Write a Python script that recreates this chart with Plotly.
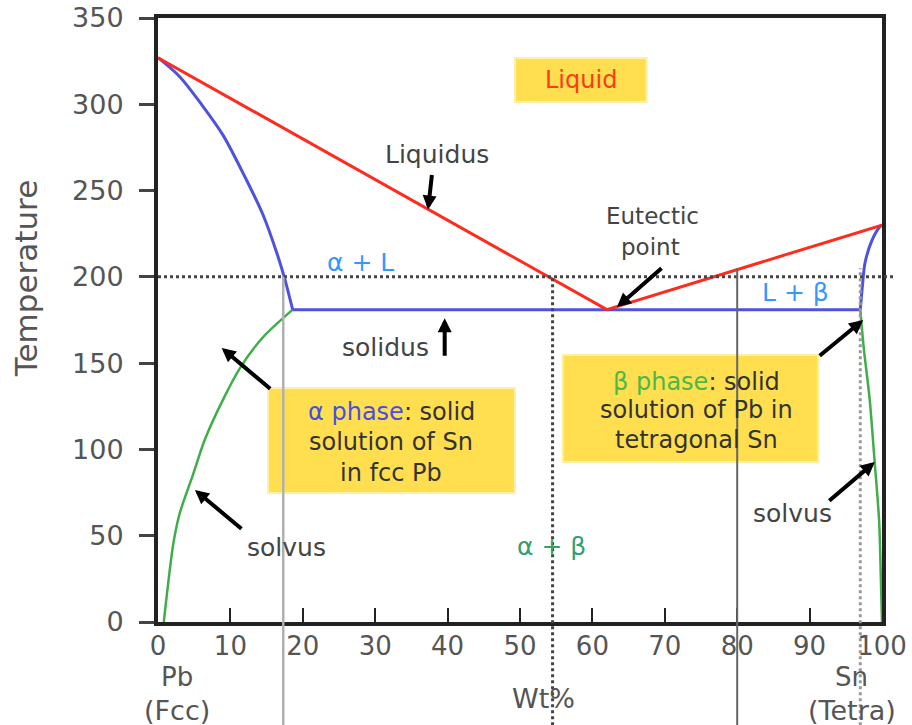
import plotly.graph_objects as go

# ---- data (wt% Sn, temperature °C) ----
liquidus_x = [0, 62, 100]
liquidus_T = [327, 181, 230]

alpha_solidus_x = [0, 3, 6, 9, 12, 14.5, 16.4, 17.5, 18.6]
alpha_solidus_T = [327, 316, 300, 282, 258, 236, 214, 199, 181]

eutectic_line_x = [18.6, 62, 97.0]
eutectic_line_T = [181, 181, 181]

beta_solidus_x = [97.0, 97.3, 97.65, 98.6, 99.7, 100]
beta_solidus_T = [181, 195, 208, 221, 229, 230]

alpha_solvus_x = [18.6, 14.5, 11.3, 9.0, 6.5, 4.8, 3.0, 2.1, 1.2, 0.8]
alpha_solvus_T = [181, 165, 147, 129, 106, 85, 63, 45, 15, 0]

beta_solvus_x = [97.0, 97.5, 98.3, 99.0, 99.6, 99.85, 100]
beta_solvus_T = [181, 158, 129, 92, 59, 24, 0]

guide_T = 200
guide_dotted_x = [54.5, 97.0]
guide_solid_x = [17.3, 80.0]

x_ticks = [0, 10, 20, 30, 40, 50, 60, 70, 80, 90, 100]
y_ticks = [0, 50, 100, 150, 200, 250, 300, 350]

FONT = "DejaVu Sans, Liberation Sans, Arial, sans-serif"
RED = "#ff2b1c"
BLUE = "#4f52dc"
GREEN = "#3fae49"
YELLOW = "#ffdf50"
TXT = "#444444"

fig = go.Figure()

def add_line(x, y, color, width, shape="linear"):
    fig.add_trace(go.Scatter(x=x, y=y, mode="lines",
                             line=dict(color=color, width=width, shape=shape, smoothing=0.8),
                             hoverinfo="skip", showlegend=False, cliponaxis=False))

add_line(alpha_solvus_x, alpha_solvus_T, GREEN, 2.5, "spline")
add_line(beta_solvus_x, beta_solvus_T, GREEN, 2.5, "spline")
add_line(alpha_solidus_x, alpha_solidus_T, BLUE, 3, "spline")
add_line(eutectic_line_x, eutectic_line_T, BLUE, 3)
add_line(beta_solidus_x, beta_solidus_T, BLUE, 3, "spline")
add_line(liquidus_x, liquidus_T, RED, 3)

shapes = []
# yellow label boxes
for (x0, x1, y0, y1) in [(49.3, 67.5, 301.3, 326.8), (15.2, 49.3, 74.8, 135.6), (55.9, 91.2, 92.7, 154.7)]:
    shapes.append(dict(type="rect", xref="x", yref="y", x0=x0, x1=x1, y0=y0, y1=y1,
                       fillcolor=YELLOW, line=dict(color="#fff0a8", width=2), layer="above"))

bottom = -0.171
# horizontal dotted guide at 200
shapes.append(dict(type="line", xref="paper", yref="y", x0=0, x1=1.018, y0=guide_T, y1=guide_T,
                   line=dict(color="#444", width=3, dash="dot"), layer="above"))
# vertical guides
shapes.append(dict(type="line", xref="x", yref="paper", x0=guide_dotted_x[0], x1=guide_dotted_x[0],
                   y0=bottom, y1=guide_T / 350, line=dict(color="#444", width=3, dash="dot"), layer="above"))
shapes.append(dict(type="line", xref="x", yref="paper", x0=guide_dotted_x[1], x1=guide_dotted_x[1],
                   y0=bottom, y1=205 / 350, line=dict(color="#999", width=3, dash="dot"), layer="above"))
shapes.append(dict(type="line", xref="x", yref="paper", x0=guide_solid_x[0], x1=guide_solid_x[0],
                   y0=bottom, y1=guide_T / 350, line=dict(color="#b0b0b0", width=2.5), layer="above"))
shapes.append(dict(type="line", xref="x", yref="paper", x0=guide_solid_x[1], x1=guide_solid_x[1],
                   y0=bottom, y1=205 / 350, line=dict(color="#666", width=2), layer="above"))

ann = []
def text(x, y, s, size=25, color=TXT, xref="x", yref="y", **kw):
    ann.append(dict(x=x, y=y, xref=xref, yref=yref, text=s, showarrow=False,
                    xanchor="center", yanchor="middle",
                    font=dict(family=FONT, size=size, color=color), **kw))

def arrow(x, y, ax, ay):
    ann.append(dict(x=x, y=y, xref="x", yref="y", text="", showarrow=True, ax=ax, ay=ay,
                    arrowhead=2, arrowsize=0.7, arrowwidth=4, arrowcolor="#000"))

text(58.4, 314, "Liquid", size=24, color="#ff3a10")
text(38.5, 271, "Liquidus")
text(68.3, 235.5, "Eutectic", size=23)
text(68.0, 217.5, "point", size=23)
text(28.0, 208.5, "α + L", color="#3399ff")
text(88.0, 191, "L + β", color="#3399ff")
text(31.4, 159, "solidus")
# alpha box lines
text(32.2, 121.6, "<span style='color:#4a4ee0'>α phase</span>: solid", size=24, color="#333")
text(32.2, 104.3, "solution of Sn", size=24, color="#333")
text(32.2, 86.3, "in fcc Pb", size=24, color="#333")
# beta box lines
text(74.4, 139.0, "<span style='color:#4cb848'>β phase</span>: solid", size=24, color="#333")
text(74.4, 122.8, "solution of Pb in", size=24, color="#333")
text(74.4, 105.4, "tetragonal Sn", size=24, color="#333")
text(17.8, 43, "solvus")
text(87.7, 63, "solvus")
text(54.3, 44, "α + β", color="#33a070")

text(2.6, -0.091, "Pb", size=26, color="#555", yref="paper")
text(2.6, -0.146, "(Fcc)", size=27, color="#555", yref="paper")
text(53.2, -0.126, "Wt%", size=27, color="#555", yref="paper")
text(95.8, -0.091, "Sn", size=26, color="#555", yref="paper")
text(95.9, -0.146, "(Tetra)", size=27, color="#555", yref="paper")
text(-0.182, 0.568, "Temperature", size=31, color="#555", xref="paper", yref="paper", textangle=-90)

arrow(37.3, 239, 4, -36)
arrow(63.4, 182.5, 46, -40)
arrow(39.6, 176, 0, 39)
arrow(8.8, 158.8, 50, 42)
arrow(5.1, 76.5, 48, 40)
arrow(97.4, 175, -45, 37)
arrow(99.0, 92.7, -47, 40)

fig.update_layout(
    width=912, height=725,
    margin=dict(l=158, r=30, t=18, b=103),
    paper_bgcolor="white", plot_bgcolor="white",
    shapes=shapes, annotations=ann, showlegend=False,
    font=dict(family=FONT),
    xaxis=dict(range=[0, 100], tickvals=x_ticks, ticks="inside", ticklen=14, tickwidth=2,
               tickcolor="#222", tickfont=dict(size=26, color="#555", family=FONT),
               showline=True, linewidth=4, linecolor="#222", mirror=True, automargin=False,
               showgrid=False, zeroline=False, ticklabelstandoff=-2, ticklabeloverflow="allow"),
    yaxis=dict(range=[0, 350], tickvals=y_ticks, ticks="outside", ticklen=15, tickwidth=3,
               tickcolor="#444", tickfont=dict(size=27, color="#555", family=FONT),
               showline=True, linewidth=4, linecolor="#222", mirror=True, automargin=False,
               showgrid=False, zeroline=False, ticklabelstandoff=10, ticklabeloverflow="allow"),
)

# remove the default 8px page margin so the figure fills the window exactly
fig.write_html("out.html", config={"displayModeBar": False},
               post_script="document.body.style.margin='0';")
